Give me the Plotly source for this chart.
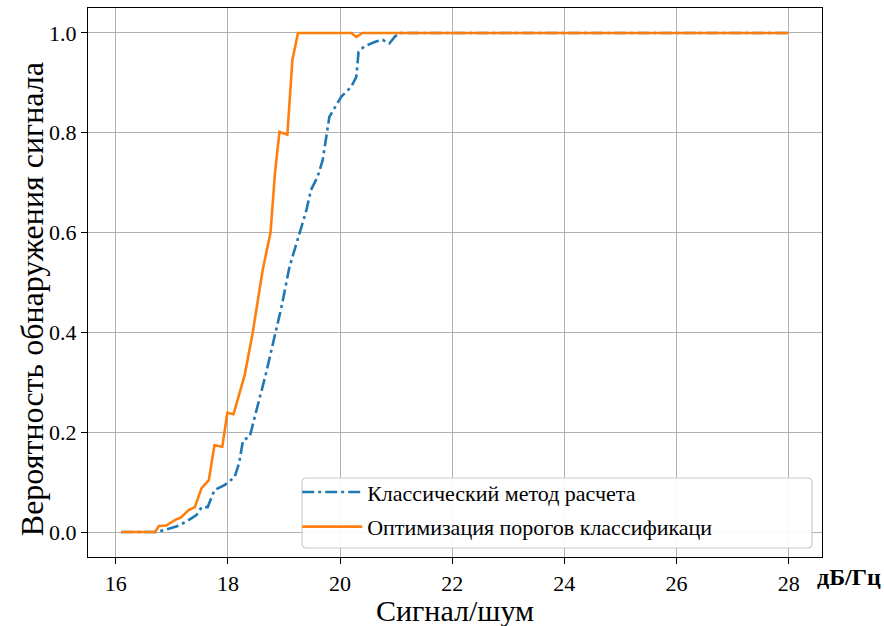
import plotly.graph_objects as go

# Detection probability vs. signal-to-noise ratio
snr_classic = [16.1, 16.72, 16.87, 17.08, 17.26, 17.44, 17.53, 17.64, 17.76, 17.94,
               18.12, 18.2, 18.27, 18.39, 18.45, 18.56, 18.68, 18.86, 18.95, 19.1,
               19.28, 19.4, 19.48, 19.6, 19.69, 19.75, 19.81, 20.02, 20.2, 20.29,
               20.33, 20.43, 20.64, 20.76, 20.88, 20.98, 21.06, 28.0]
p_classic = [0.0, 0.0, 0.004, 0.011, 0.021, 0.034, 0.05, 0.05, 0.084, 0.094,
             0.11, 0.138, 0.184, 0.191, 0.218, 0.265, 0.318, 0.405, 0.448, 0.532,
             0.599, 0.645, 0.685, 0.712, 0.745, 0.792, 0.832, 0.872, 0.892, 0.912,
             0.962, 0.973, 0.983, 0.986, 0.979, 0.993, 1.0, 1.0]

snr_optim = [16.1, 16.7, 16.77, 16.9, 17.07, 17.16, 17.3, 17.41, 17.53, 17.66,
             17.76, 17.9, 17.99, 18.1, 18.3, 18.44, 18.62, 18.76, 18.84, 18.92,
             19.06, 19.15, 19.25, 20.2, 20.29, 20.4, 28.0]
p_optim = [0.0, 0.0, 0.012, 0.013, 0.025, 0.029, 0.044, 0.05, 0.088, 0.104,
           0.174, 0.171, 0.239, 0.236, 0.315, 0.398, 0.525, 0.6, 0.72, 0.802,
           0.796, 0.946, 1.0, 1.0, 0.992, 1.0, 1.0]

series_names = ["Классический метод расчета", "Оптимизация порогов классификаци"]
x_ticks = [16, 18, 20, 22, 24, 26, 28]
y_ticks = [0.0, 0.2, 0.4, 0.6, 0.8, 1.0]

SERIF = "Liberation Serif, Times New Roman, serif"

fig = go.Figure()
fig.add_trace(go.Scatter(
    x=snr_classic, y=p_classic, mode="lines", name=series_names[0],
    legendgroup="a",
    line=dict(color="#1f77b4", width=2.6, dash="12px,4px,3px,4px"),
))
fig.add_trace(go.Scatter(
    x=snr_optim, y=p_optim, mode="lines", name=series_names[1],
    legendgroup="b",
    line=dict(color="#ff7f0e", width=2.6),
))

axis_common = dict(
    showline=True, linecolor="black", linewidth=1.2, mirror=True,
    ticks="outside", ticklen=6, tickwidth=1.2, tickcolor="black",
    showgrid=True, gridcolor="#b0b0b0", gridwidth=1.3,
    zeroline=False,
    tickfont=dict(family=SERIF, size=22, color="black"),
)

fig.update_xaxes(range=[15.505, 28.595], tickvals=x_ticks,
                 ticktext=[str(v) for v in x_ticks], **axis_common)
fig.update_yaxes(range=[-0.05, 1.05], tickvals=y_ticks,
                 ticktext=[f"{v:.1f}" for v in y_ticks], **axis_common)

# Rounded, semi-opaque frame behind the legend entries
x0, x1, y0, y1 = 0.2916, 0.9864, 0.0164, 0.1439
rx, ry = 0.006, 0.008
legend_frame = (
    f"M{x0+rx},{y0} L{x1-rx},{y0} Q{x1},{y0} {x1},{y0+ry} "
    f"L{x1},{y1-ry} Q{x1},{y1} {x1-rx},{y1} L{x0+rx},{y1} "
    f"Q{x0},{y1} {x0},{y1-ry} L{x0},{y0+ry} Q{x0},{y0} {x0+rx},{y0} Z"
)

fig.update_layout(
    width=884, height=626,
    margin=dict(l=88, r=62, t=8, b=69),
    paper_bgcolor="white", plot_bgcolor="white",
    font=dict(family=SERIF, color="black"),
    showlegend=True,
    legend=dict(
        x=0.285, y=0.016, xanchor="left", yanchor="bottom",
        bgcolor="rgba(0,0,0,0)", borderwidth=0,
        font=dict(family=SERIF, size=22, color="black"),
        tracegroupgap=3, itemwidth=60,
    ),
    shapes=[dict(type="path", path=legend_frame, xref="paper", yref="paper",
                 fillcolor="rgba(255,255,255,0.9)",
                 line=dict(color="#cccccc", width=1.2), layer="above")],
    annotations=[
        dict(text="Вероятность обнаружения сигнала", xref="paper", yref="paper",
             x=-0.076, y=0.47, xanchor="center", yanchor="middle", textangle=-90,
             showarrow=False, font=dict(family=SERIF, size=32, color="black")),
        dict(text="Сигнал/шум", xref="paper", yref="paper",
             x=0.5, y=-0.097, xanchor="center", yanchor="middle",
             showarrow=False, font=dict(family=SERIF, size=30, color="black")),
        dict(text="<b>дБ/Гц</b>", xref="paper", yref="paper",
             x=0.99, y=-0.036, xanchor="left", yanchor="middle",
             showarrow=False, font=dict(family=SERIF, size=24, color="black")),
    ],
)

fig.write_html("out.html")
